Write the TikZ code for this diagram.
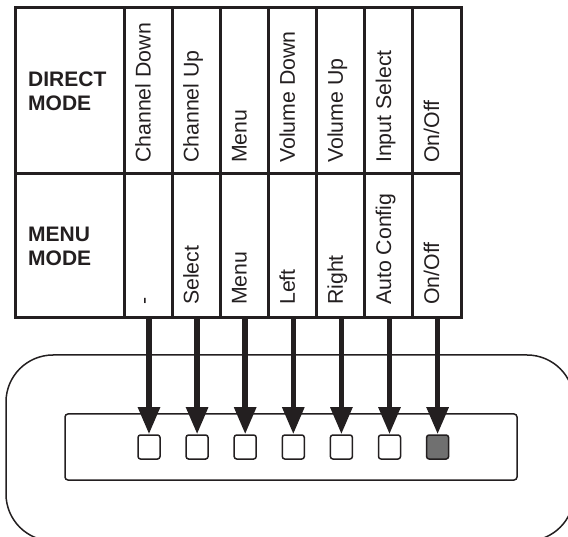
\documentclass[tikz,border=0pt]{standalone}
\usepackage{fontspec}
\setmainfont{Liberation Sans}
\usetikzlibrary{arrows.meta}
\definecolor{ink}{HTML}{231F20}
\definecolor{btngray}{HTML}{707070}
\tikzset{
  tablefont/.style={font=\fontsize{21.3}{23.5}\selectfont, text=ink},
  vlabel/.style={tablefont, rotate=90, anchor=base west, inner sep=0pt},
  modelabel/.style={tablefont, font=\fontsize{21}{23.5}\selectfont\bfseries, anchor=north west, align=left, inner sep=0pt},
  gridline/.style={draw=ink, line width=3pt},
  btn/.style={draw=ink, line width=1.5pt, fill=white, rounded corners=2.5pt, minimum width=22pt, minimum height=24pt, inner sep=0pt},
  bigarrow/.style={draw=ink, line width=5.5pt, -{Triangle[length=27pt,width=21pt]}},
  panel/.style={draw=ink, line width=1.5pt}
}
\begin{document}
\begin{tikzpicture}[x=1pt,y=-1pt]
\useasboundingbox (0,0) rectangle (568,537);
% device outline (clipped by page)
\begin{scope}
\clip (0,0) rectangle (568,537);
\draw[panel, rounded corners=47pt] (6,355) rectangle (574,541);
\end{scope}
\draw[panel, rounded corners=3pt] (65,414) rectangle (517,480);
% table
\draw[gridline] (15,8) rectangle (461,318);
\draw[gridline] (15,174) -- (461,174);
\foreach \i in {0,...,6} {
  \draw[gridline] ({124+48.1*\i},8) -- ({124+48.1*\i},318);
}
% mode labels
\node[modelabel] (direct) at (28,72) {DIRECT\\MODE};
\node[modelabel] (menu) at (28,227) {MENU\\MODE};
% column labels
\foreach \top/\bot [count=\i from 0] in {Channel Down/-, Channel Up/Select, Menu/Menu, Volume Down/Left, Volume Up/Right, Input Select/Auto Config, On\slash Off/On\slash Off} {
  \node[vlabel] (top\i) at ({148+48.1*\i+2.5},163) {\top};
  \node[vlabel] (bot\i) at ({148+48.1*\i+2.5},305) {\bot};
  \coordinate (src\i) at ({148+48.1*\i+1},319);
}
% buttons
\foreach \i in {0,...,5} {
  \node[btn] (b\i) at ({149+48.1*\i},447) {};
}
\node[btn, fill=btngray] (b6) at ({149+48.1*6},447) {};
% arrows
\foreach \i in {0,...,6} {
  \draw[bigarrow] (src\i) -- (b\i.north);
}
\end{tikzpicture}
\end{document}
